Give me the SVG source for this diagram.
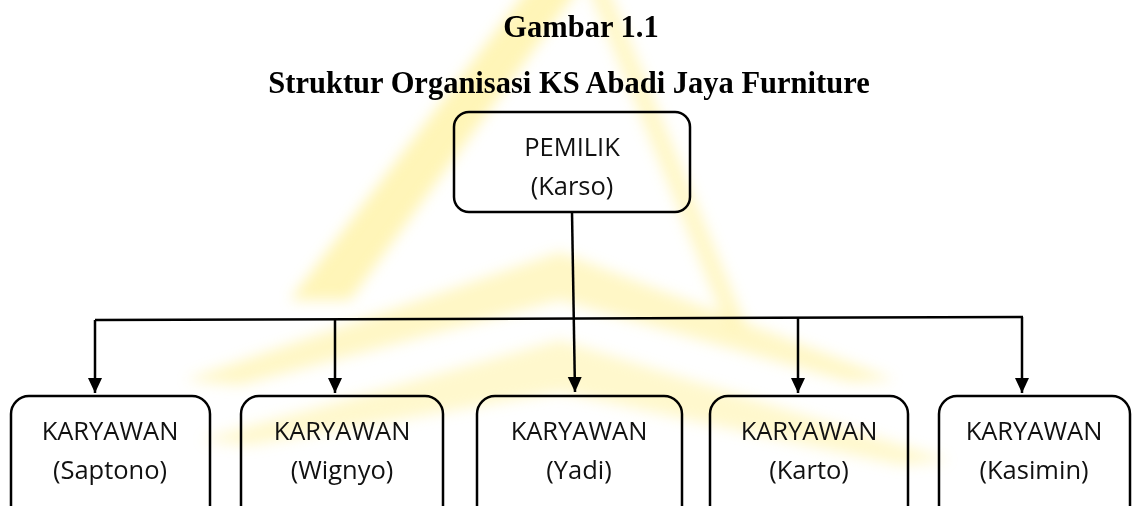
<svg xmlns="http://www.w3.org/2000/svg" width="1133" height="506" viewBox="0 0 1133 506">
  <style>
    .title { font-family: "Liberation Serif", "Times New Roman", serif; font-weight: bold; font-size: 30.5px; fill: #000; text-anchor: middle; }
    .box { fill: none; stroke: #000; stroke-width: 2.5; }
    .lbl { font-family: "Open Sans", "Noto Sans", sans-serif; font-size: 25.5px; fill: #111; text-anchor: middle; }
    .conn { fill: none; stroke: #000; stroke-width: 2.5; }
    .wm { fill: #FFEB70; }
  </style>
  <defs>
    <marker id="arr" markerUnits="userSpaceOnUse" markerWidth="16" markerHeight="15" refX="15" refY="7" orient="auto">
      <path d="M0,0 L15,7 L0,14 z" fill="#000"/>
    </marker>
    <filter id="soft" x="-20%" y="-20%" width="140%" height="140%">
      <feGaussianBlur stdDeviation="7"/>
    </filter>
  </defs>
  <rect width="1133" height="506" fill="#fff"/>

  <g id="watermark" filter="url(#soft)" opacity="0.5">
    <polygon class="wm" points="535,-20 585,-20 350,300 290,300"/>
    <polygon class="wm" points="585,-20 605,-20 748,330 728,330" opacity="0.8"/>
    <polygon class="wm" points="560,252 895,380 850,382 560,300 240,385 185,380" opacity="0.8"/>
    <polygon class="wm" points="560,340 950,460 900,465 560,392 250,445 200,440" opacity="0.7"/>
  </g>

  <g id="title">
    <text class="title" x="581" y="37">Gambar 1.1</text>
    <text class="title" x="569" y="93">Struktur Organisasi KS Abadi Jaya Furniture</text>
  </g>

  <g id="connectors">
    <line class="conn" x1="572" y1="212" x2="575" y2="392" marker-end="url(#arr)"/>
    <line class="conn" x1="95" y1="320" x2="1023" y2="317"/>
    <line class="conn" x1="95" y1="320" x2="95" y2="393" marker-end="url(#arr)"/>
    <line class="conn" x1="335" y1="319" x2="335" y2="393" marker-end="url(#arr)"/>
    <line class="conn" x1="798" y1="318" x2="798" y2="393" marker-end="url(#arr)"/>
    <line class="conn" x1="1022" y1="317" x2="1022" y2="393" marker-end="url(#arr)"/>
  </g>

  <g id="pemilik">
    <rect class="box" x="454" y="112" width="236" height="100" rx="15"/>
    <text class="lbl" x="572" y="156">PEMILIK</text>
    <text class="lbl" x="572" y="195">(Karso)</text>
  </g>
  <g id="saptono">
    <rect class="box" x="11" y="396" width="199" height="130" rx="18"/>
    <text class="lbl" x="110" y="440">KARYAWAN</text>
    <text class="lbl" x="110" y="479">(Saptono)</text>
  </g>
  <g id="wignyo">
    <rect class="box" x="241" y="396" width="202" height="130" rx="18"/>
    <text class="lbl" x="342" y="440">KARYAWAN</text>
    <text class="lbl" x="342" y="479">(Wignyo)</text>
  </g>
  <g id="yadi">
    <rect class="box" x="477" y="396" width="205" height="130" rx="18"/>
    <text class="lbl" x="579" y="440">KARYAWAN</text>
    <text class="lbl" x="579" y="479">(Yadi)</text>
  </g>
  <g id="karto">
    <rect class="box" x="710" y="396" width="198" height="130" rx="18"/>
    <text class="lbl" x="809" y="440">KARYAWAN</text>
    <text class="lbl" x="809" y="479">(Karto)</text>
  </g>
  <g id="kasimin">
    <rect class="box" x="939" y="396" width="191" height="130" rx="18"/>
    <text class="lbl" x="1034" y="440">KARYAWAN</text>
    <text class="lbl" x="1034" y="479">(Kasimin)</text>
  </g>
</svg>
